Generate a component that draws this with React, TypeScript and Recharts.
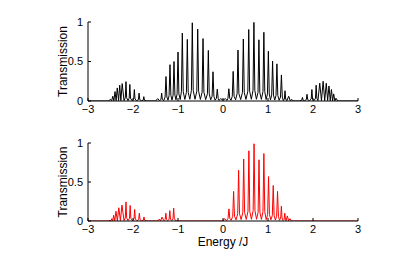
import React from 'react';
import { LineChart, Line, XAxis, YAxis } from 'recharts';

// Tick values
const energyTicks = [-3, -2, -1, 0, 1, 2, 3];
const transTicks = [0, 0.5, 1];

// ---------- Panel (a), black ----------
// outer left band
const energyA1 = [-3, -2.55, -2.5, -2.475, -2.45, -2.425, -2.4, -2.375, -2.35, -2.32, -2.295, -2.27, -2.24, -2.2,
  -2.171, -2.156, -2.141, -2.11, -2.085, -2.07, -2.055, -2.02, -1.985, -1.97, -1.955, -1.92,
  -1.88, -1.865, -1.85, -1.81, -1.775, -1.76, -1.745, -1.7];
const transA1 = [0, 0, 0.02, 0.002, 0.06, 0.003, 0.12, 0.004, 0.165, 0.005, 0.2, 0.005, 0.22, 0.005,
  0.04, 0.245, 0.04, 0.005, 0.035, 0.21, 0.035, 0.004, 0.025, 0.145, 0.025, 0.003,
  0.018, 0.1, 0.018, 0.002, 0.01, 0.055, 0.01, 0];
// central left band
const energyA2 = [-1.5, -1.45, -1.41,
  -1.378, -1.363, -1.348, -1.315, -1.287, -1.267, -1.247, -1.222,
  -1.198, -1.178, -1.158, -1.133, -1.109, -1.089, -1.069, -1.045,
  -1.02, -1.0, -0.98, -0.952, -0.924, -0.904, -0.884, -0.848,
  -0.813, -0.793, -0.773, -0.737, -0.702, -0.682, -0.662, -0.622,
  -0.582, -0.562, -0.542, -0.503, -0.464, -0.444, -0.424, -0.385,
  -0.346, -0.326, -0.306, -0.274, -0.242, -0.222, -0.202, -0.175,
  -0.147, -0.127, -0.107, -0.09, -0.05, 0];
const transA2 = [0, 0.03, 0.003,
  0.02, 0.1, 0.02, 0.006, 0.05, 0.31, 0.05, 0.01,
  0.07, 0.46, 0.07, 0.012, 0.075, 0.5, 0.075, 0.015,
  0.09, 0.62, 0.09, 0.018, 0.118, 0.86, 0.118, 0.02,
  0.109, 0.78, 0.109, 0.022, 0.134, 0.99, 0.134, 0.022,
  0.124, 0.91, 0.124, 0.02, 0.11, 0.79, 0.11, 0.018,
  0.092, 0.64, 0.092, 0.015, 0.059, 0.37, 0.059, 0.01,
  0.033, 0.15, 0.033, 0.008, 0.03, 0.01];
// central right band
const energyA3 = [0.05, 0.09,
  0.11, 0.13, 0.15, 0.178, 0.206, 0.226, 0.246, 0.28,
  0.313, 0.333, 0.353, 0.393, 0.432, 0.452, 0.472, 0.51,
  0.552, 0.572, 0.592, 0.63, 0.667, 0.687, 0.707, 0.742,
  0.778, 0.798, 0.818, 0.853, 0.888, 0.908, 0.928, 0.958,
  0.988, 1.008, 1.028, 1.055, 1.082, 1.102, 1.122, 1.15,
  1.178, 1.198, 1.218, 1.248, 1.278, 1.298, 1.318, 1.34,
  1.363, 1.378, 1.393, 1.42, 1.46, 1.495, 1.53, 1.56];
const transA3 = [0.03, 0.008,
  0.033, 0.155, 0.033, 0.01, 0.059, 0.375, 0.059, 0.015,
  0.092, 0.645, 0.092, 0.018, 0.11, 0.785, 0.11, 0.02,
  0.124, 0.905, 0.124, 0.022, 0.134, 0.995, 0.134, 0.022,
  0.108, 0.775, 0.108, 0.02, 0.12, 0.87, 0.12, 0.018,
  0.09, 0.63, 0.09, 0.015, 0.075, 0.505, 0.075, 0.012,
  0.07, 0.47, 0.07, 0.01, 0.05, 0.33, 0.05, 0.006,
  0.025, 0.13, 0.025, 0.004, 0.06, 0.002, 0.02, 0];
// outer right band
const energyA4 = [1.7,
  1.75, 1.765, 1.78, 1.815, 1.852, 1.867, 1.882, 1.92,
  1.96, 1.975, 1.99, 2.022, 2.055, 2.07, 2.085, 2.11,
  2.15, 2.188, 2.225, 2.26, 2.295, 2.325, 2.355, 2.383, 2.41, 2.435, 2.46, 2.485, 2.51, 2.55, 3];
const transA4 = [0,
  0.01, 0.045, 0.01, 0.002, 0.018, 0.085, 0.018, 0.003,
  0.025, 0.145, 0.025, 0.004, 0.035, 0.2, 0.035, 0.005,
  0.225, 0.005, 0.25, 0.005, 0.225, 0.005, 0.19, 0.004, 0.145, 0.003, 0.09, 0.002, 0.035, 0, 0];

// ---------- Panel (b), red ----------
const energyB1 = [-3, -2.55, -2.51, -2.49, -2.47, -2.45, -2.43, -2.405, -2.378, -2.347, -2.315, -2.28, -2.245, -2.2,
  -2.171, -2.156, -2.141, -2.11, -2.078, -2.063, -2.048, -2.013,
  -1.978, -1.963, -1.948, -1.911, -1.874, -1.859, -1.844, -1.807,
  -1.771, -1.756, -1.741, -1.7];
const transB1 = [0, 0, 0.01, 0.002, 0.03, 0.002, 0.073, 0.003, 0.125, 0.004, 0.17, 0.005, 0.205, 0.005,
  0.04, 0.245, 0.04, 0.005, 0.035, 0.2, 0.035, 0.004,
  0.025, 0.148, 0.025, 0.003, 0.018, 0.1, 0.018, 0.002,
  0.01, 0.052, 0.01, 0];
const energyB2 = [-1.45, -1.415, -1.385, -1.356, -1.313,
  -1.285, -1.27, -1.255, -1.226, -1.197, -1.182, -1.167, -1.139,
  -1.111, -1.096, -1.081, -1.05, -1.0];
const transB2 = [0, 0.025, 0.002, 0.05, 0.003,
  0.02, 0.1, 0.02, 0.004, 0.025, 0.133, 0.025, 0.005,
  0.03, 0.165, 0.03, 0.002, 0];
const energyB3 = [0, 0.03, 0.08,
  0.112, 0.132, 0.152, 0.184, 0.216, 0.236, 0.256, 0.29,
  0.327, 0.347, 0.367, 0.403, 0.44, 0.46, 0.48, 0.517,
  0.555, 0.575, 0.595, 0.632, 0.67, 0.69, 0.71, 0.745,
  0.78, 0.8, 0.82, 0.854, 0.888, 0.908, 0.928, 0.96,
  0.992, 1.012, 1.032, 1.064, 1.096, 1.116, 1.136, 1.164,
  1.192, 1.212, 1.232, 1.255, 1.282, 1.297, 1.312, 1.335,
  1.358, 1.373, 1.388, 1.402, 1.43, 1.458, 1.487, 1.52, 3];
const transB3 = [0, 0.03, 0.006,
  0.033, 0.155, 0.033, 0.01, 0.06, 0.38, 0.06, 0.015,
  0.093, 0.65, 0.093, 0.018, 0.11, 0.795, 0.11, 0.02,
  0.123, 0.9, 0.123, 0.022, 0.134, 0.99, 0.134, 0.022,
  0.11, 0.785, 0.11, 0.02, 0.119, 0.865, 0.119, 0.018,
  0.083, 0.57, 0.083, 0.015, 0.07, 0.455, 0.07, 0.012,
  0.06, 0.38, 0.06, 0.01, 0.038, 0.19, 0.038, 0.006,
  0.02, 0.1, 0.02, 0.004, 0.065, 0.002, 0.03, 0, 0];

const energyA = [...energyA1, ...energyA2, ...energyA3, ...energyA4];
const transA = [...transA1, ...transA2, ...transA3, ...transA4];
const energyB = [...energyB1, ...energyB2, ...energyB3];
const transB = [...transB1, ...transB2, ...transB3];

const rowsA = energyA.map((e, i) => ({ e, t: transA[i] }));
const rowsB = energyB.map((e, i) => ({ e, t: transB[i] }));

const FONT = '"Liberation Sans", Arial, Helvetica, sans-serif';
const fmtE = (v: number) => (v < 0 ? '\u2212' + Math.abs(v) : String(v));

const YTitle = (props: any) => (
  <text
    x={67}
    y={props.cy}
    transform={`rotate(-90, 67, ${props.cy})`}
    textAnchor="middle"
    fontSize={12}
    fontFamily={FONT}
    fill="#000"
  >
    Transmission
  </text>
);

const Tag = (props: any) => (
  <text x={353} y={props.by} textAnchor="end" fontSize={12} fontFamily={FONT} fill="#000">
    {props.text}
  </text>
);

const XTitle = (props: any) => (
  <text x={223} y={props.by} textAnchor="middle" fontSize={12} fontFamily={FONT} fill="#000">
    Energy /J
  </text>
);

type PanelProps = {
  rows: { e: number; t: number }[];
  color: string;
  tag: string;
  top: number;
  height: number;
  marginTop: number;
  xAxisHeight: number;
  showXLabel: boolean;
};

function Panel({ rows, color, tag, top, height, marginTop, xAxisHeight, showXLabel }: PanelProps) {
  const plotH = height - marginTop - xAxisHeight;
  const cy = marginTop + plotH / 2;
  return (
    <div style={{ position: 'absolute', left: 0, top }}>
      <LineChart width={415} height={height} data={rows} margin={{ top: marginTop, right: 57, bottom: 0, left: 0 }}>
        <XAxis
          xAxisId="b"
          dataKey="e"
          type="number"
          domain={[-3, 3]}
          ticks={energyTicks}
          allowDataOverflow
          interval={0}
          height={xAxisHeight}
          tickSize={-3}
          tickMargin={7}
          stroke="#000"
          tick={{ fill: '#000', fontSize: 11, fontFamily: FONT }}
          tickFormatter={fmtE}
          label={showXLabel ? <XTitle by={marginTop + plotH + 24.5} /> : undefined}
        />
        <XAxis
          xAxisId="t"
          orientation="top"
          dataKey="e"
          type="number"
          domain={[-3, 3]}
          ticks={energyTicks}
          allowDataOverflow
          interval={0}
          height={0}
          tickSize={-3}
          stroke="#000"
          tickFormatter={() => ''}
        />
        <YAxis
          yAxisId="l"
          type="number"
          domain={[0, 1]}
          ticks={transTicks}
          allowDataOverflow
          interval={0}
          width={88}
          tickSize={-3}
          tickMargin={8}
          stroke="#000"
          tick={{ fill: '#000', fontSize: 11, fontFamily: FONT }}
          label={<YTitle cy={cy} />}
        />
        <YAxis
          yAxisId="r"
          orientation="right"
          type="number"
          domain={[0, 1]}
          ticks={transTicks}
          allowDataOverflow
          interval={0}
          width={0}
          tickSize={-3}
          stroke="#000"
          tickFormatter={() => ''}
          label={<Tag by={marginTop + 13.5} text={tag} />}
        />
        <Line
          xAxisId="b"
          yAxisId="l"
          dataKey="t"
          type="linear"
          stroke={color}
          strokeWidth={1}
          dot={false}
          isAnimationActive={false}
        />
      </LineChart>
    </div>
  );
}

export default function App() {
  return (
    <div style={{ position: 'absolute', left: 0, top: 0, width: 415, height: 261, background: '#fff' }}>
      <Panel rows={rowsA} color="#000000" tag="(a)" top={0} height={130} marginTop={22} xAxisHeight={29} showXLabel={false} />
      <Panel rows={rowsB} color="#ff0000" tag="(b)" top={120} height={141} marginTop={23} xAxisHeight={40} showXLabel={true} />
    </div>
  );
}
